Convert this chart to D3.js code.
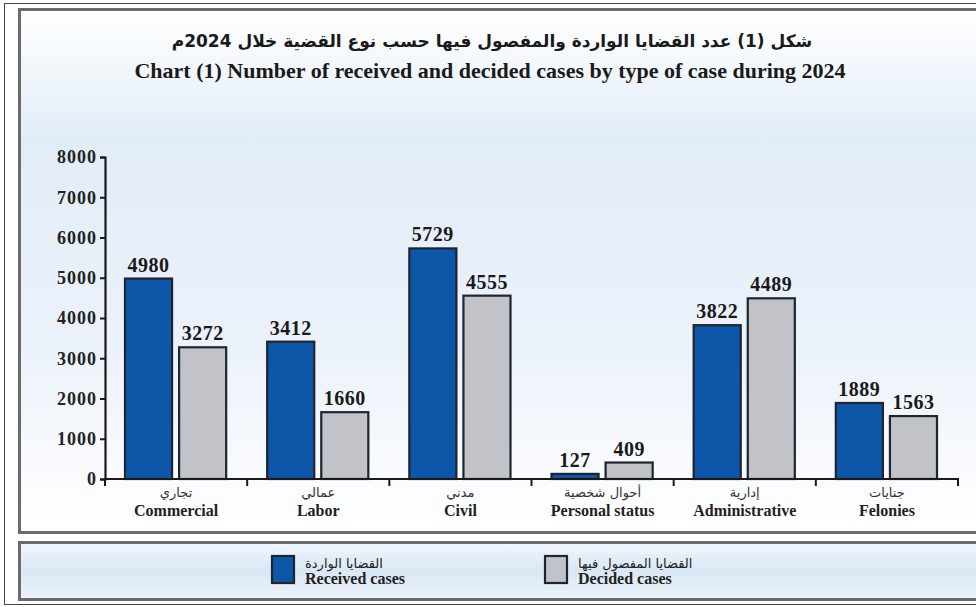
<!DOCTYPE html>
<html lang="en">
  <head>
    <meta charset="UTF-8" />
    <title>cases chart</title>
    <script src="https://cdn.jsdelivr.net/npm/d3@7/dist/d3.min.js"></script>
    <style>
      body { margin: 0; background: #ffffff; }
      svg { display: block; }
    </style>
  </head>
  <body>
    <div id="wrapper"></div>
    <script>
      const categoriesEn = ["Commercial", "Labor", "Civil", "Personal status", "Administrative", "Felonies"];
      const categoriesAr = ["تجاري", "عمالي", "مدني", "أحوال شخصية", "إدارية", "جنايات"];
      const receivedCases = [4980, 3412, 5729, 127, 3822, 1889];
      const decidedCases = [3272, 1660, 4555, 409, 4489, 1563];
      const yTicks = [0, 1000, 2000, 3000, 4000, 5000, 6000, 7000, 8000];

      const width = 976, height = 607;
      const serif = "'Liberation Serif', 'Times New Roman', serif";
      const arabic = "'DejaVu Sans', sans-serif";

      const svg = d3.select("#wrapper").append("svg")
        .attr("width", width).attr("height", height);

      const defs = svg.append("defs");
      const g1 = defs.append("linearGradient").attr("id", "bgMain")
        .attr("x1", 0).attr("y1", 0).attr("x2", 0).attr("y2", 1);
      g1.append("stop").attr("offset", "0%").attr("stop-color", "#ffffff");
      g1.append("stop").attr("offset", "25%").attr("stop-color", "#e2ecf7");
      g1.append("stop").attr("offset", "65%").attr("stop-color", "#ecf2fa");
      g1.append("stop").attr("offset", "100%").attr("stop-color", "#ffffff");
      const g2 = defs.append("linearGradient").attr("id", "bgLegend")
        .attr("x1", 0).attr("y1", 0).attr("x2", 0).attr("y2", 1);
      g2.append("stop").attr("offset", "0%").attr("stop-color", "#f1f6fc");
      g2.append("stop").attr("offset", "50%").attr("stop-color", "#d9e7f5");
      g2.append("stop").attr("offset", "100%").attr("stop-color", "#eef4fb");

      // outer thin frame
      svg.append("rect").attr("x", 4.5).attr("y", 3.5).attr("width", 990).attr("height", 601)
        .attr("fill", "#ffffff").attr("stroke", "#444").attr("stroke-width", 1);

      // main panel
      svg.append("rect").attr("x", 19.5).attr("y", 9.5).attr("width", 980).attr("height", 523)
        .attr("fill", "url(#bgMain)").attr("stroke", "#6b6b6b").attr("stroke-width", 3);
      // legend panel
      svg.append("rect").attr("x", 19.5).attr("y", 542.5).attr("width", 980).attr("height", 57)
        .attr("fill", "url(#bgLegend)").attr("stroke", "#6b6b6b").attr("stroke-width", 3);

      // titles
      svg.append("text").attr("x", 492).attr("y", 47).attr("text-anchor", "middle")
        .attr("direction", "rtl")
        .style("font-family", arabic).style("font-weight", "bold").style("font-size", "17px")
        .attr("fill", "#1a1a1a")
        .text("شكل (1) عدد القضايا الواردة والمفصول فيها حسب نوع القضية خلال 2024م");
      svg.append("text").attr("x", 490).attr("y", 78).attr("text-anchor", "middle")
        .style("font-family", serif).style("font-weight", "bold").style("font-size", "22px")
        .attr("fill", "#1a1a1a")
        .text("Chart (1) Number of received and decided cases by type of case during 2024");

      const x = d3.scaleBand().domain(categoriesEn).range([105, 958]);
      const xInner = d3.scaleBand().domain(["received", "decided"])
        .range([20, x.bandwidth() - 21]).paddingInner(0.13);
      const y = d3.scaleLinear().domain([0, 8000]).range([479, 157]);

      // y axis
      const yAxis = svg.append("g").attr("transform", "translate(105,0)")
        .call(d3.axisLeft(y).tickValues(yTicks).tickFormat(d3.format("d")).tickSize(5).tickPadding(3));
      yAxis.select(".domain").attr("stroke", "#1a1a1a").attr("stroke-width", 2.2);
      yAxis.selectAll(".tick line").attr("stroke", "#1a1a1a").attr("stroke-width", 2);
      yAxis.selectAll(".tick text")
        .style("font-family", serif).style("font-weight", "bold").style("font-size", "18px")
        .style("letter-spacing", "1px")
        .attr("fill", "#222");

      // bars
      const groups = svg.append("g").selectAll("g").data(categoriesEn).join("g")
        .attr("transform", (d) => `translate(${x(d)},0)`);
      const series = [
        { key: "received", values: receivedCases, fill: "#0d56a8" },
        { key: "decided", values: decidedCases, fill: "#c2c3c8" },
      ];
      series.forEach((s) => {
        groups.append("rect")
          .attr("x", xInner(s.key))
          .attr("y", (d, i) => y(s.values[i]))
          .attr("width", xInner.bandwidth())
          .attr("height", (d, i) => y(0) - y(s.values[i]))
          .attr("fill", s.fill)
          .attr("stroke", "#1d2530").attr("stroke-width", 2.2);
        groups.append("text")
          .attr("x", xInner(s.key) + xInner.bandwidth() / 2)
          .attr("y", (d, i) => y(s.values[i]) - 7)
          .attr("text-anchor", "middle")
          .style("font-family", serif).style("font-weight", "bold").style("font-size", "20px")
          .style("letter-spacing", "0.5px")
          .attr("fill", "#1a1a1a")
          .text((d, i) => s.values[i]);
      });

      // x axis with boundary ticks
      const xAxis = svg.append("g").attr("transform", `translate(0,${y(0)})`);
      xAxis.append("line").attr("x1", 104).attr("x2", 959)
        .attr("stroke", "#1a1a1a").attr("stroke-width", 2.2);
      const bounds = categoriesEn.map((d) => x(d)).concat([x.range()[1]]);
      xAxis.selectAll(".bt").data(bounds).join("line").attr("class", "bt")
        .attr("x1", (d) => d).attr("x2", (d) => d).attr("y1", 0).attr("y2", 7)
        .attr("stroke", "#1a1a1a").attr("stroke-width", 2);

      // category labels
      groups.append("text")
        .attr("x", x.bandwidth() / 2).attr("y", 497).attr("text-anchor", "middle")
        .attr("direction", "rtl")
        .style("font-family", arabic).style("font-size", "13px").attr("fill", "#333")
        .text((d, i) => categoriesAr[i]);
      groups.append("text")
        .attr("x", x.bandwidth() / 2).attr("y", 516).attr("text-anchor", "middle")
        .style("font-family", serif).style("font-weight", "bold").style("font-size", "16px")
        .attr("fill", "#222")
        .text((d) => d);

      // legend
      const legendItems = [
        { ar: "القضايا الواردة", en: "Received cases", fill: "#0d56a8", x: 272 },
        { ar: "القضايا المفصول فيها", en: "Decided cases", fill: "#c2c3c8", x: 545 },
      ];
      const legend = svg.append("g").selectAll("g").data(legendItems).join("g")
        .attr("transform", (d) => `translate(${d.x},556)`);
      legend.append("rect").attr("width", 22).attr("height", 27)
        .attr("fill", (d) => d.fill).attr("stroke", "#1d2530").attr("stroke-width", 2.2);
      legend.append("text").attr("x", 33).attr("y", 12).attr("text-anchor", "start")
        .style("font-family", arabic).style("font-size", "13px").attr("fill", "#222")
        .text((d) => d.ar);
      legend.append("text").attr("x", 33).attr("y", 28)
        .style("font-family", serif).style("font-weight", "bold").style("font-size", "16px")
        .attr("fill", "#222")
        .text((d) => d.en);
    </script>
  </body>
</html>
